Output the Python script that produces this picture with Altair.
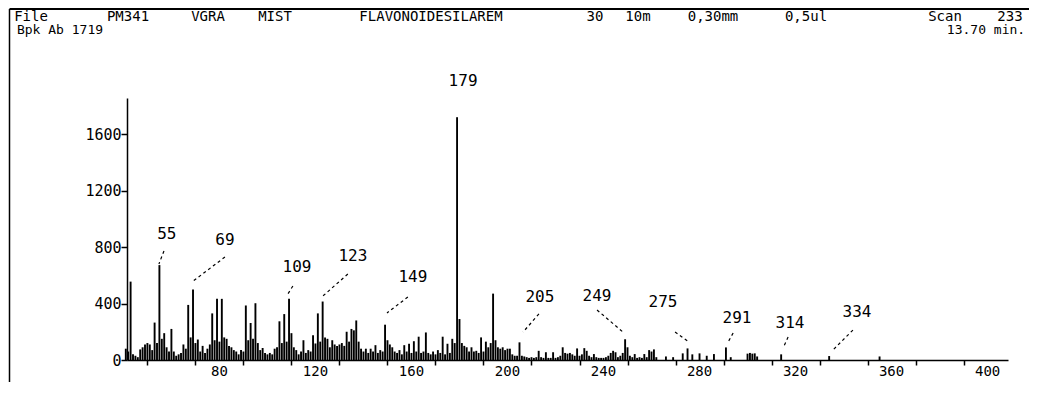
import altair as alt
import pandas as pd

# ---- spectrum data (m/z, abundance) ----
mz = [41, 42, 43, 44, 45, 46, 47, 48, 49, 50,
      51, 52, 53, 54, 55, 56, 57, 58, 59, 60,
      61, 62, 63, 64, 65, 66, 67, 68, 69, 70,
      71, 72, 73, 74, 75, 76, 77, 78, 79, 80,
      81, 82, 83, 84, 85, 86, 87, 88, 89, 90,
      91, 92, 93, 94, 95, 96, 97, 98, 99, 100,
      101, 102, 103, 104, 105, 106, 107, 108, 109, 110,
      111, 112, 113, 114, 115, 116, 117, 118, 119, 120,
      121, 122, 123, 124, 125, 126, 127, 128, 129, 130,
      131, 132, 133, 134, 135, 136, 137, 138, 139, 140,
      141, 142, 143, 144, 145, 146, 147, 148, 149, 150,
      151, 152, 153, 154, 155, 156, 157, 158, 159, 160,
      161, 162, 163, 164, 165, 166, 167, 168, 169, 170,
      171, 172, 173, 174, 175, 176, 177, 178, 179, 180,
      181, 182, 183, 184, 185, 186, 187, 188, 189, 190,
      191, 192, 193, 194, 195, 196, 197, 198, 199, 200,
      201, 202, 203, 204, 205, 206, 207, 208, 209, 210,
      211, 212, 213, 214, 215, 216, 217, 218, 219, 220,
      221, 222, 223, 224, 225, 226, 227, 228, 229, 230,
      231, 232, 233, 234, 235, 236, 237, 238, 239, 240,
      241, 242, 243, 244, 245, 246, 247, 248, 249, 250,
      251, 252, 253, 254, 255, 256, 257, 258, 259, 260,
      261, 262, 266, 269, 273, 275, 277, 280, 283, 286,
      291, 293, 300, 301, 302, 303, 304, 314, 334, 355]
abundance = [80, 60, 555, 40, 30, 20, 75, 90, 110, 120,
             110, 70, 265, 120, 672, 150, 190, 90, 60, 220,
             60, 30, 40, 50, 110, 80, 390, 160, 500, 120,
             145, 60, 100, 50, 80, 110, 330, 140, 433, 130,
             433, 160, 150, 100, 90, 70, 60, 40, 70, 60,
             386, 140, 262, 150, 402, 120, 70, 85, 50, 40,
             50, 40, 80, 90, 274, 120, 325, 130, 433, 190,
             90, 70, 40, 60, 140, 50, 70, 60, 175, 117,
             330, 130, 414, 160, 150, 90, 140, 110, 100, 110,
             120, 100, 200, 130, 220, 210, 280, 130, 80, 60,
             80, 50, 80, 60, 105, 50, 70, 60, 250, 140,
             110, 90, 60, 50, 70, 40, 105, 60, 115, 50,
             133, 60, 165, 50, 60, 195, 50, 40, 60, 40,
             70, 50, 165, 40, 115, 50, 150, 120, 1719, 290,
             120, 100, 90, 60, 90, 60, 65, 50, 160, 60,
             130, 90, 120, 470, 140, 90, 80, 90, 70, 80,
             80, 40, 30, 30, 125, 30, 25, 20, 15, 20,
             15, 20, 65, 20, 15, 55, 15, 15, 55, 15,
             20, 30, 90, 50, 45, 50, 40, 30, 82, 30,
             40, 84, 65, 30, 20, 42, 20, 15, 15, 15,
             20, 30, 50, 65, 55, 20, 30, 50, 147, 90,
             30, 20, 42, 15, 20, 15, 42, 20, 70, 60,
             75, 20, 25, 20, 47, 82, 40, 47, 30, 42,
             89, 20, 45, 50, 45, 47, 25, 40, 28, 25]

# ---- axis ticks and tick labels ----
x_ticks = list(range(50, 401, 10))
x_tick_labels = [80, 120, 160, 200, 240, 280, 320, 360, 400]
y_ticks = list(range(0, 1801, 100))

# ---- peak labels ----
label_text = ["55", "69", "109", "123", "149", "179", "205", "249", "275", "291", "314", "334"]
label_mz = [58.1, 82.3, 112.3, 135.6, 160.6, 181.5, 213.5, 237.3, 264.8, 295.6, 317.7, 345.6]
label_ab = [892, 850, 658, 736, 588, 1975, 446, 453, 410, 297, 262, 340]
leader_mz1 = [56.9, 82.3, 110.6, 133.5, 158.5, 213.1, 237.3, 269.8, 294.0, 316.9, 343.9]
leader_ab1 = [772, 729, 524, 609, 446, 326, 354, 198, 191, 163, 212]
leader_mz2 = [54.8, 68.5, 108.5, 123.1, 149.8, 206.5, 248.1, 275.6, 291.9, 314.8, 335.2]
leader_ab2 = [680, 552, 467, 453, 333, 198, 198, 127, 127, 85, 64]

# ---- header words ----
header1 = ["File", "PM341", "VGRA", "MIST", "FLAVONOIDESILAREM", "30", "10m", "0,30mm", "0,5ul", "Scan", "233"]
header1_cx = [31, 128, 208, 275, 431, 595, 638, 713, 806, 945, 1010]
header2 = ["Bpk Ab 1719", "13.70 min."]
header2_cx = [60, 986]

spec = pd.DataFrame({"mz": mz, "ab": abundance})
labels = pd.DataFrame({"t": label_text, "x": label_mz, "y": label_ab})
leaders = pd.DataFrame({"x": leader_mz1, "y": leader_ab1, "x2": leader_mz2, "y2": leader_ab2})
xlab = pd.DataFrame({"v": x_tick_labels})

FONT = "DejaVu Sans Mono"
LEFT, TOP = 127, 98  # page position of plot origin

xscale = alt.Scale(domain=[41.5, 408.5], nice=False, zero=False)
yscale = alt.Scale(domain=[0, 1855], nice=False)

xaxis = alt.Axis(values=x_ticks, labels=False,
                 title=None, grid=False, tickSize=5, tickColor="black", tickWidth=1.5,
                 domainColor="black", domainWidth=1.5)
yaxis = alt.Axis(values=y_ticks,
                 labelExpr="datum.value % 400 == 0 ? '' + datum.value : ''",
                 labelOverlap=False,
                 title=None, grid=False, tickSize=6, tickColor="black", tickWidth=1.5,
                 domainColor="black", domainWidth=1.5, labelFont=FONT, labelFontSize=15,
                 labelColor="black", labelPadding=0)

bars = alt.Chart(spec).mark_rule(color="black", strokeWidth=1.9).encode(
    x=alt.X("mz:Q", scale=xscale, axis=xaxis),
    y=alt.Y("ab:Q", scale=yscale, axis=yaxis),
    y2=alt.datum(0),
)

xlabels = alt.Chart(xlab).mark_text(font=FONT, fontSize=14, color="black",
                                    baseline="top", dy=5).encode(
    x=alt.X("v:Q", scale=xscale), y=alt.datum(0), text="v:Q")

lab = alt.Chart(labels).mark_text(font=FONT, fontSize=16, color="black").encode(
    x=alt.X("x:Q", scale=xscale), y=alt.Y("y:Q", scale=yscale), text="t:N")

lead = alt.Chart(leaders).mark_rule(color="black", strokeWidth=1.2, strokeDash=[3, 3]).encode(
    x=alt.X("x:Q", scale=xscale), y=alt.Y("y:Q", scale=yscale), x2="x2:Q", y2="y2:Q")

layers = [bars, xlabels, lead, lab]

for w, cx in zip(header1, header1_cx):
    layers.append(alt.Chart(pd.DataFrame({"t": [w]})).mark_text(
        font=FONT, fontSize=14, color="black", align="center", baseline="middle").encode(
        text="t:N", x=alt.value(cx - LEFT), y=alt.value(17 - TOP)))
for w, cx in zip(header2, header2_cx):
    layers.append(alt.Chart(pd.DataFrame({"t": [w]})).mark_text(
        font=FONT, fontSize=13, color="black", align="center", baseline="middle").encode(
        text="t:N", x=alt.value(cx - LEFT), y=alt.value(30 - TOP)))

# frame lines of the printout
frame_top = alt.Chart(pd.DataFrame({"a": [0]})).mark_rule(color="black", strokeWidth=2).encode(
    x=alt.value(9.5 - LEFT), x2=alt.value(1029 - LEFT), y=alt.value(9 - TOP))
frame_left = alt.Chart(pd.DataFrame({"a": [0]})).mark_rule(color="black", strokeWidth=1.5).encode(
    x=alt.value(9.5 - LEFT), y=alt.value(9 - TOP), y2=alt.value(382 - TOP))
layers += [frame_top, frame_left]

chart = alt.layer(*layers).properties(
    width=881, height=262,
    padding={"left": 119, "top": 90, "right": 21, "bottom": 22},
    autosize=alt.AutoSizeParams(type="none"),
).configure_view(stroke=None)

chart.save("out.html", embed_options={"renderer": "svg", "actions": False})
